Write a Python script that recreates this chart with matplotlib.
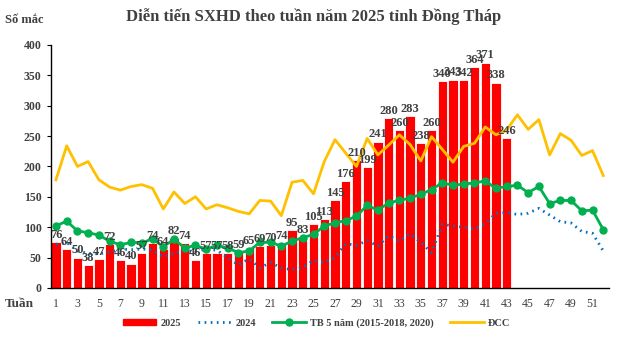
import numpy as np
import matplotlib
matplotlib.use('Agg')
import matplotlib.pyplot as plt
from matplotlib.patches import Patch
from matplotlib.lines import Line2D

plt.rcParams['font.family'] = ['Liberation Serif', 'DejaVu Serif']

weeks = np.arange(1, 53)
cases_2025 = [76, 64, 50, 38, 47, 72, 46, 40, 57, 74, 64, 82, 74, 46, 57, 57, 58, 59, 65, 69,
              70, 74, 95, 83, 105, 113, 145, 176, 210, 199, 241, 280, 260, 283, 238, 260,
              340, 343, 342, 364, 371, 338, 246]
cases_2024 = [72, 75, 61, 57, 56, 59, 64, 63, 64, 63, 51, 57, 61, 60, 64, 62, 50, 38, 48, 33,
              42, 33, 30, 34, 45, 42, 50, 73, 70, 78, 69, 86, 77, 89, 75, 58, 105, 102, 100,
              97, 106, 123, 124, 121, 123, 131, 120, 109, 107, 93, 90, 61]
tb5 = [102, 110, 94, 91, 87, 77, 71, 75, 74, 81, 68, 80, 66, 70, 64, 70, 66, 58, 61, 75,
       75, 69, 77, 83, 88, 102, 107, 111, 118, 136, 128, 140, 144, 148, 154, 162, 173, 169,
       171, 173, 176, 164, 167, 169, 157, 167, 139, 144, 144, 127, 128, 96]
dcc = [178, 234, 200, 208, 178, 166, 161, 167, 170, 164, 130, 158, 139, 150, 130, 137, 132,
       126, 122, 144, 143, 119, 174, 177, 155, 208, 244, 222, 200, 246, 219, 235, 252, 236,
       209, 249, 228, 207, 233, 238, 265, 252, 260, 285, 261, 277, 219, 254, 243, 218, 226, 185]

red = '#FF0000'
blue = '#0070C0'
green = '#00B050'
yellow = '#FFC000'
txt = '#404040'

fig = plt.figure(figsize=(6.27, 3.40), dpi=100)
ax = fig.add_axes([0.0807, 0.153, 0.890, 0.715])

w25 = weeks[:len(cases_2025)]
ax.bar(w25, cases_2025, width=0.86, color=red, edgecolor='white', linewidth=0.6, zorder=1)
ax.plot(weeks, dcc, color=yellow, lw=2.0, zorder=2)
ax.plot(weeks, cases_2024, color=blue, lw=2.0, linestyle=(0, (0.6, 1.6)), zorder=3)
ax.plot(weeks, tb5, color=green, lw=2.0, marker='o', markersize=5, zorder=4)

for x, v in zip(w25, cases_2025):
    ax.text(x, v + 2, str(v), ha='center', va='bottom', fontsize=9, fontweight='bold',
            color=txt, zorder=5)

ax.set_xlim(0.5, 52.5)
ax.set_ylim(0, 400)
ax.set_yticks(range(0, 401, 50))
ax.set_xticks(weeks[::2])
ax.tick_params(axis='y', labelsize=8.5, labelcolor=txt, length=3, width=0.8)
ax.tick_params(axis='x', labelsize=8.5, labelcolor=txt, length=0, pad=7)
for lab in ax.get_yticklabels():
    lab.set_fontweight('bold')
for s in ['top', 'right']:
    ax.spines[s].set_visible(False)
ax.spines['left'].set_linewidth(1.0)
ax.spines['bottom'].set_linewidth(1.0)

fig.text(0.5, 0.95, 'Diễn tiến SXHD theo tuần năm 2025 tỉnh Đồng Tháp', ha='center', va='center',
         fontsize=12, fontweight='bold', color=txt)
fig.text(0.008, 0.94, 'Số mắc', ha='left', va='center', fontsize=9, fontweight='bold', color=txt)
fig.text(0.008, 0.105, 'Tuần', ha='left', va='center', fontsize=9.5, fontweight='bold', color=txt)

handles = [Patch(facecolor=red, edgecolor=red),
           Line2D([], [], color=blue, lw=2.0, linestyle=(0, (0.6, 1.6))),
           Line2D([], [], color=green, lw=2.0, marker='o', markersize=5),
           Line2D([], [], color=yellow, lw=2.0)]
labels = ['2025', '2024', 'TB 5 năm (2015-2018, 2020)', 'ĐCC']
leg = fig.legend(handles, labels, loc='center', bbox_to_anchor=(0.505, 0.05), ncol=4,
                 frameon=False, handlelength=3.2, handleheight=0.5, columnspacing=1.6,
                 handletextpad=0.4, prop={'size': 7.5, 'weight': 'bold'})
for t in leg.get_texts():
    t.set_color(txt)

fig.savefig('out.png', dpi=100)
